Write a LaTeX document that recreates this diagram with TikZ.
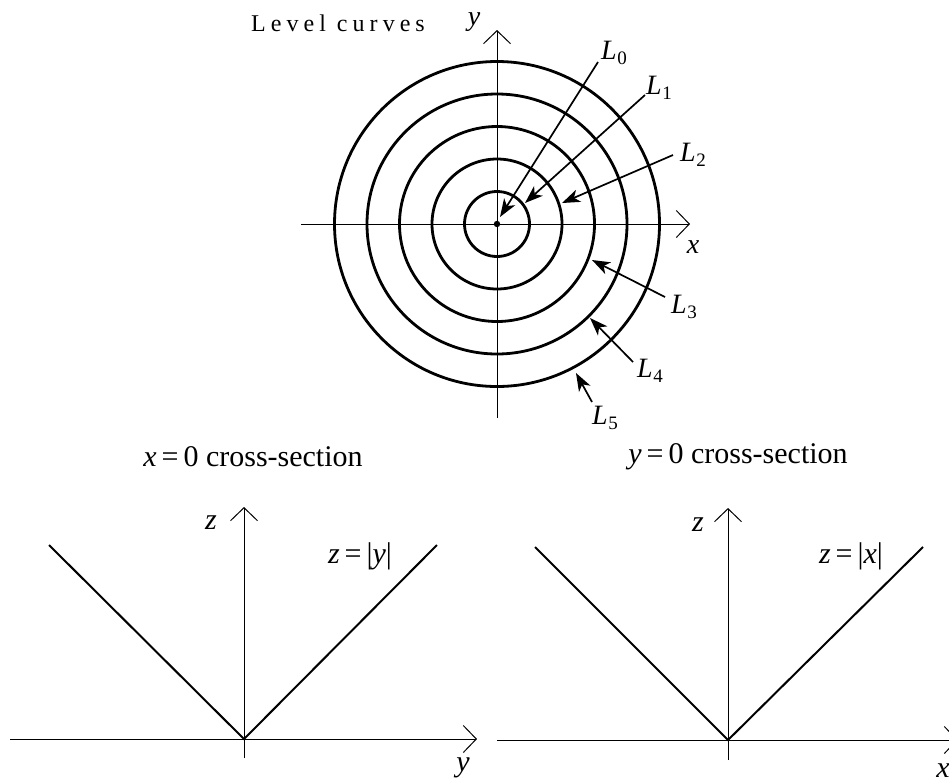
\documentclass[tikz,border=0pt]{standalone}
\usepackage{fontspec}
\setmainfont{Liberation Serif}
\usetikzlibrary{arrows.meta}
\newcommand{\Lsub}[1]{\textit{L}\kern0.5pt\raisebox{-5pt}{\fontsize{19}{21}\selectfont #1}}
\begin{document}
\begin{tikzpicture}[x=1pt,y=-1pt,
  circ/.style={line width=2.8pt},
  axis/.style={line width=1pt,-{Straight Barb[length=13pt,width=27pt,line width=1pt]}},
  ptr/.style={line width=1.7pt,-{Stealth[length=18pt,width=13pt,inset=5pt]}},
  vline/.style={line width=2pt},
  lbl/.style={inner sep=0pt,font=\fontsize{28}{32}\selectfont},
  big/.style={inner sep=0pt,font=\fontsize{30}{34}\selectfont},
]
\useasboundingbox (0,0) rectangle (949,780);
\clip (0,0) rectangle (949,780);
% ---------- level curves ----------
\coordinate (O) at (497,224);
\coordinate (xa0) at (301,224);
\coordinate (xa1) at (690,224);
\coordinate (ya0) at (497,418);
\coordinate (ya1) at (497,30);
\draw[axis] (xa0) -- (xa1);
\draw[axis] (ya0) -- (ya1);
\foreach \r in {32.5,65,97.5,130,162.5} \draw[circ] (O) circle[radius=\r pt];
\fill (O) circle[radius=3.2pt];
\node[inner sep=0pt,font=\fontsize{24}{28}\selectfont\addfontfeatures{LetterSpace=21}] (title) at (338,23) {Level curves};
\node[lbl] (ylab) at (474,22) {\textit{y}};
\node[lbl] (xlab) at (693,247) {\textit{x}};
\node[lbl] (L0) at (614,53) {\Lsub{0}};
\node[lbl] (L1) at (659,88) {\Lsub{1}};
\node[lbl] (L2) at (693,155) {\Lsub{2}};
\node[lbl] (L3) at (684,307) {\Lsub{3}};
\node[lbl] (L4) at (650,371) {\Lsub{4}};
\node[lbl] (L5) at (605,418) {\Lsub{5}};
\coordinate (t0) at (598,62);  \coordinate (h0) at (500,217);
\coordinate (t1) at (645,95);  \coordinate (h1) at (525,203);
\coordinate (t2) at (673,155); \coordinate (h2) at (562,203);
\coordinate (t3) at (665,297); \coordinate (h3) at (592,260);
\coordinate (t4) at (633,362); \coordinate (h4) at (590,318);
\coordinate (t5) at (592,402); \coordinate (h5) at (576,373);
\foreach \i in {0,...,5} \draw[ptr] (t\i) -- (h\i);
% ---------- x=0 cross-section ----------
\node[big] (tA) at (253,457) {\textit{x}\,=\,0 cross-section};
\coordinate (A) at (244,739);
\coordinate (Ah0) at (10,739); \coordinate (Ah1) at (477,739);
\coordinate (Av0) at (244,758); \coordinate (Av1) at (244,507);
\draw[axis] (Ah0) -- (Ah1);
\draw[axis] (Av0) -- (Av1);
\coordinate (Al) at (49,545); \coordinate (Ar) at (437,545);
\draw[vline] (Al) -- (A) -- (Ar);
\node[big] (zA) at (211,523) {\textit{z}};
\node[big] (fA) at (360,556) {\textit{z}\,=\,|\textit{y}|};
\node[big] (yA) at (463,768) {\textit{y}};
% ---------- y=0 cross-section ----------
\node[big] (tB) at (738,457) {\textit{y}\,=\,0 cross-section};
\coordinate (B) at (728,740);
\coordinate (Bh0) at (497,740); \coordinate (Bh1) at (958,740);
\coordinate (Bv0) at (728,760); \coordinate (Bv1) at (728,508);
\draw[axis] (Bh0) -- (Bh1);
\draw[axis] (Bv0) -- (Bv1);
\coordinate (Bl) at (535,547); \coordinate (Br) at (923,547);
\draw[vline] (Bl) -- (B) -- (Br);
\node[big] (zB) at (698,525) {\textit{z}};
\node[big] (fB) at (851,556) {\textit{z}\,=\,|\textit{x}|};
\node[big] (xB) at (943,771) {\textit{x}};
\end{tikzpicture}
\end{document}
